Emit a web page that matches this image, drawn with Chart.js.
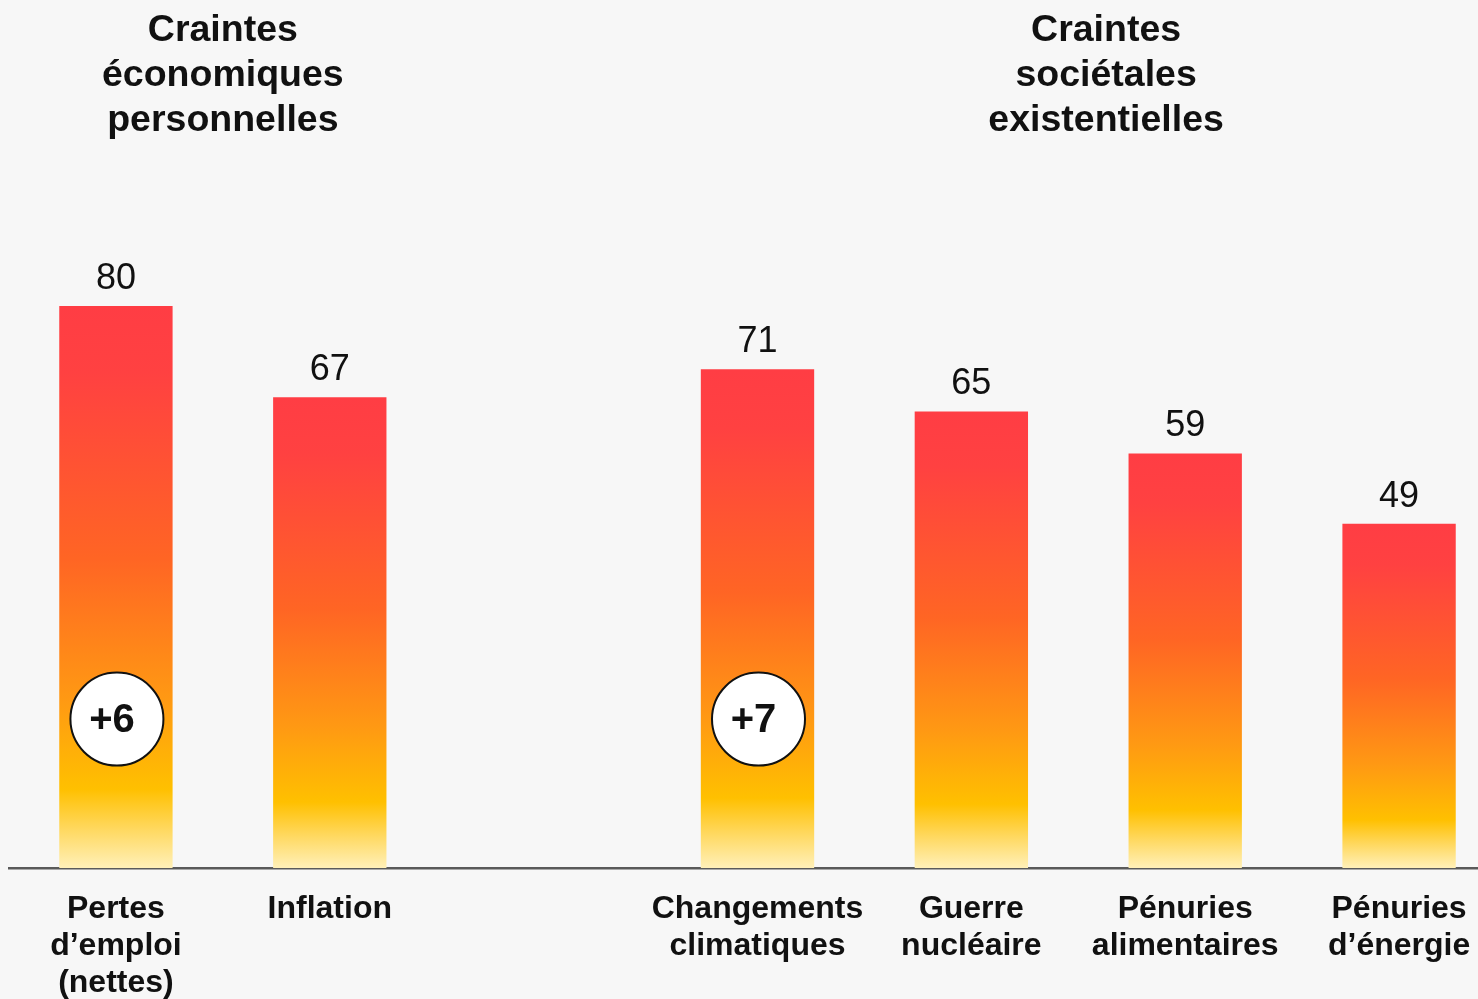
<!DOCTYPE html>
<html>
<head>
<meta charset="utf-8">
<script src="https://cdn.jsdelivr.net/npm/chart.js@4/dist/chart.umd.min.js"></script>
<style>
  html, body { margin: 0; padding: 0; background: #F7F7F7; overflow: hidden; }
  #wrap { width: 1478px; height: 999px; overflow: hidden; }
  canvas { display: block; }
</style>
</head>
<body>
<div id="wrap"><canvas id="fearChart" width="1506" height="999"></canvas></div>
<script>
// categories (empty slot = gap between the two groups)
const categories = [
  ["Pertes", "d\u2019emploi", "(nettes)"],
  ["Inflation"],
  [""],
  ["Changements", "climatiques"],
  ["Guerre", "nucl\u00e9aire"],
  ["P\u00e9nuries", "alimentaires"],
  ["P\u00e9nuries", "d\u2019\u00e9nergie"]
];
const values = [80, 67, null, 71, 65, 59, 49];
const changes = ["+6", null, null, "+7", null, null, null];
const groupTitles = [
  ["Craintes", "\u00e9conomiques", "personnelles"],
  ["Craintes", "soci\u00e9tales", "existentielles"]
];
const groupCenters = [0.5, 4.63];

const FONT = "'Liberation Sans', Arial, sans-serif";

function barGradient(context) {
  const chart = context.chart;
  const area = chart.chartArea;
  if (!area) return "#FF6A22";
  const v = context.raw;
  if (v == null) return "#FF6A22";
  const y = chart.scales.y;
  const top = y.getPixelForValue(v);
  const bottom = y.getPixelForValue(0);
  const g = chart.ctx.createLinearGradient(0, top, 0, bottom);
  g.addColorStop(0, "#FF3D44");
  g.addColorStop(0.12, "#FF4141");
  g.addColorStop(0.45, "#FF6524");
  g.addColorStop(0.7, "#FF9913");
  g.addColorStop(0.86, "#FFC000");
  g.addColorStop(0.93, "#FFD85E");
  g.addColorStop(1, "#FFF0B8");
  return g;
}

const overlayPlugin = {
  id: "overlay",
  afterDatasetsDraw(chart) {
    const ctx = chart.ctx;
    const meta = chart.getDatasetMeta(0);
    const yScale = chart.scales.y;
    const xScale = chart.scales.x;
    ctx.save();
    ctx.textAlign = "center";
    ctx.textBaseline = "middle";

    // value labels
    ctx.fillStyle = "#111111";
    ctx.font = "36px " + FONT;
    meta.data.forEach((bar, i) => {
      if (values[i] == null) return;
      ctx.fillText(String(values[i]), bar.x, bar.y - 27);
    });

    // change circles
    const cy = yScale.getPixelForValue(21.2);
    changes.forEach((c, i) => {
      if (!c) return;
      const x = meta.data[i].x + 1;
      ctx.beginPath();
      ctx.arc(x, cy, 46.5, 0, Math.PI * 2);
      ctx.fillStyle = "#FFFFFF";
      ctx.fill();
      ctx.lineWidth = 2;
      ctx.strokeStyle = "#111111";
      ctx.stroke();
      ctx.fillStyle = "#111111";
      ctx.font = "bold 40px " + FONT;
      ctx.fillText(c, x - 5, cy + 2);
    });

    // group titles
    ctx.font = "bold 37.5px " + FONT;
    groupTitles.forEach((lines, g) => {
      const x = xScale.getPixelForValue(groupCenters[g]);
      lines.forEach((t, k) => {
        ctx.fillText(t, x, 31 + k * 45);
      });
    });
    ctx.restore();
  }
};

new Chart(document.getElementById("fearChart"), {
  type: "bar",
  data: {
    labels: categories,
    datasets: [{
      data: values,
      backgroundColor: barGradient,
      borderWidth: 0,
      categoryPercentage: 1,
      barPercentage: 0.53
    }]
  },
  options: {
    responsive: false,
    animation: false,
    devicePixelRatio: 1,
    layout: { padding: { left: 9, right: 0, top: 25, bottom: 0 } },
    plugins: { legend: { display: false }, tooltip: { enabled: false } },
    scales: {
      x: {
        grid: { display: false, drawTicks: false },
        border: { display: true, color: "#5A5A5A", width: 2.5 },
        ticks: {
          color: "#111111",
          font: { family: FONT, size: 32, weight: "bold", lineHeight: 1.15 },
          padding: 23,
          maxRotation: 0,
          autoSkip: false
        },
        afterFit(scale) { scale.height = 131; }
      },
      y: {
        display: false,
        min: 0,
        max: 120
      }
    }
  },
  plugins: [overlayPlugin]
});
</script>
</body>
</html>
